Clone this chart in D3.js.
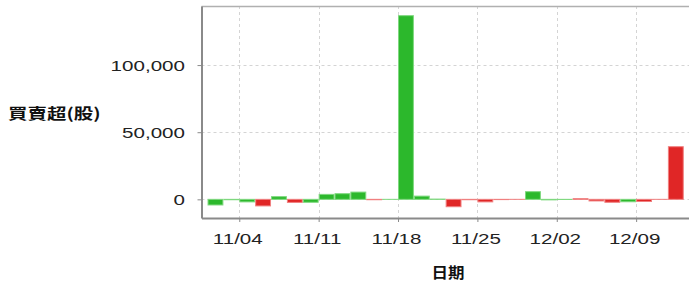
<!DOCTYPE html>
<html>
<head>
<meta charset="utf-8">
<script src="https://cdn.jsdelivr.net/npm/d3@7/dist/d3.min.js"></script>
<style>
  html, body { margin: 0; padding: 0; background: #fff; }
  svg { display: block; }
</style>
</head>
<body>
<svg id="chart" width="689" height="289"></svg>
<script>
// ---- data ----
const dates = ["10/31","11/01","11/04","11/05","11/06","11/07","11/08",
  "11/11","11/12","11/13","11/14","11/15",
  "11/18","11/19","11/20","11/21","11/22",
  "11/25","11/26","11/27","11/28","11/29",
  "12/02","12/03","12/04","12/05","12/06",
  "12/09","12/10","12/11"];
const values = [-4200, -300, -1900, -4900, 2000, -2300, -2200,
  3700, 4200, 5400, -300, 0,
  136800, 2400, 200, -5500, -300,
  -1900, -200, 0, 5700, -400,
  -100, 500, -1200, -2200, -1800,
  -1600, 0, 39200];
const colors = ["g","g","g","r","g","r","g",
  "g","g","g","r","g",
  "g","g","g","r","r",
  "r","r","r","g","g",
  "g","r","r","r","g",
  "r","r","r"];
const tickLabels = ["11/04","11/11","11/18","11/25","12/02","12/09"];
const yTicks = [0, 50000, 100000];
const yTitle = "買賣超(股)";
const xTitle = "日期";

// ---- layout ----
const svg = d3.select("#chart");
const L = 201.5, R = 689, T = 6, B = 218;
const SX = 1.42; // horizontal stretch of text in the reference
const fill = { g: "#2cb82c", r: "#e02626" };
const edge = { g: "#7fd87f", r: "#f08080" };

const x = d3.scaleLinear().domain([-0.38, 30.33]).range([L, R]);
const y = d3.scaleLinear().domain([-13900, 144000]).range([B, T]);
const step = x(1) - x(0);

// grid
const tickIdx = tickLabels.map(t => dates.indexOf(t));
svg.append("g").selectAll("line.vg").data(tickIdx).join("line")
  .attr("x1", d => Math.round(x(d)) + 0.5).attr("x2", d => Math.round(x(d)) + 0.5)
  .attr("y1", T).attr("y2", B)
  .attr("stroke", "#d4d4d4").attr("stroke-dasharray", "3,3");
svg.append("g").selectAll("line.hg").data(yTicks).join("line")
  .attr("x1", L).attr("x2", R)
  .attr("y1", d => Math.round(y(d)) + 0.5).attr("y2", d => Math.round(y(d)) + 0.5)
  .attr("stroke", "#d4d4d4").attr("stroke-dasharray", "3,3");

// bars
svg.append("g").selectAll("rect").data(values).join("rect")
  .attr("x", (d, i) => x(i) + 0.5)
  .attr("width", step - 1)
  .attr("y", d => Math.min(y(d), y(0)))
  .attr("height", d => Math.max(Math.abs(y(d) - y(0)), 0.01))
  .attr("fill", (d, i) => fill[colors[i]])
  .attr("stroke", (d, i) => edge[colors[i]])
  .attr("stroke-width", 1);

// border
svg.append("line").attr("x1", L).attr("x2", R).attr("y1", T + 0.5).attr("y2", T + 0.5)
  .attr("stroke", "#b0b0b0").attr("stroke-width", 1.5);

// axes
const xAxis = d3.axisBottom(x).tickValues(tickIdx).tickFormat(() => "").tickSize(4).tickSizeOuter(0);
const gx = svg.append("g").attr("transform", `translate(0,${B})`).call(xAxis);
gx.select(".domain").attr("stroke", "#8a8a8a").attr("stroke-width", 2);
gx.selectAll(".tick line").attr("stroke", "#8a8a8a");

const yAxis = d3.axisLeft(y).tickValues(yTicks).tickFormat(() => "").tickSize(4).tickSizeOuter(0);
const gy = svg.append("g").attr("transform", `translate(${L},0)`).call(yAxis);
gy.select(".domain").attr("stroke", "#8a8a8a").attr("stroke-width", 2);
gy.selectAll(".tick line").attr("stroke", "#8a8a8a");

// stretched labels
function label(px, py, txt, anchor, size, weight, family) {
  svg.append("g").attr("transform", `translate(${px},${py}) scale(${SX},1)`)
    .append("text").attr("text-anchor", anchor)
    .attr("font-family", family || "'Liberation Sans', Arial, sans-serif")
    .attr("font-size", size).attr("font-weight", weight || "normal")
    .attr("fill", "#222").text(txt);
}
const fmt = d3.format(",");
yTicks.forEach(v => label(185, y(v) + 5.5, fmt(v), "end", 14.5));
tickIdx.forEach((idx, k) => label(x(idx) - 1.5, 244, tickLabels[k], "middle", 14.5));

svg.append("g").attr("transform", `translate(8,119) scale(1.3,1)`)
  .append("text").attr("font-family", "'Noto Sans CJK TC', sans-serif")
  .attr("font-size", 15).attr("font-weight", "bold").attr("fill", "#111").text(yTitle);
svg.append("g").attr("transform", `translate(448,278) scale(1.1,1)`)
  .append("text").attr("text-anchor", "middle").attr("font-family", "'Noto Sans CJK TC', sans-serif")
  .attr("font-size", 15).attr("font-weight", "bold").attr("fill", "#111").text(xTitle);
</script>
</body>
</html>
